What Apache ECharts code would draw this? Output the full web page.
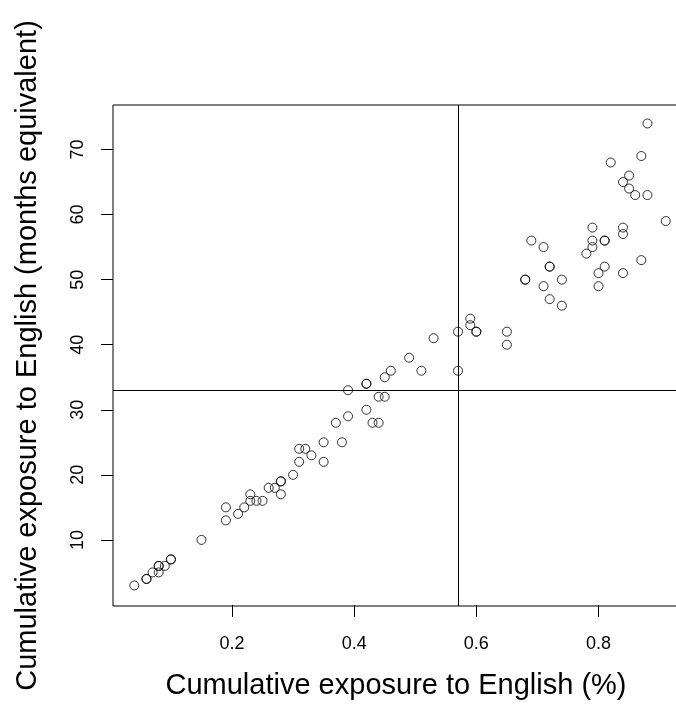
<!DOCTYPE html>
<html>
<head>
<meta charset="utf-8">
<script src="https://cdn.jsdelivr.net/npm/echarts@6/dist/echarts.min.js"></script>
<style>
html,body{margin:0;padding:0;background:#fff;}
#chart{width:676px;height:709px;}
</style>
</head>
<body>
<div id="chart"></div>
<script>
const xValues = [0.04,0.06,0.06,0.07,0.08,0.08,0.08,0.09,0.10,0.10,0.15,0.19,0.19,0.21,0.22,0.23,0.23,0.24,0.25,0.26,0.27,0.28,0.28,0.28,0.30,0.31,0.31,0.32,0.33,0.35,0.35,0.37,0.38,0.39,0.39,0.42,0.42,0.42,0.43,0.44,0.44,0.45,0.45,0.46,0.49,0.51,0.53,0.57,0.57,0.59,0.59,0.60,0.60,0.65,0.65,0.68,0.68,0.69,0.71,0.71,0.72,0.72,0.72,0.74,0.74,0.78,0.79,0.79,0.79,0.80,0.80,0.81,0.81,0.81,0.82,0.84,0.84,0.84,0.84,0.85,0.85,0.86,0.87,0.87,0.88,0.88,0.91];
const yValues = [3,4,4,5,6,6,5,6,7,7,10,15,13,14,15,17,16,16,16,18,18,19,19,17,20,22,24,24,23,25,22,28,25,29,33,30,34,34,28,28,32,32,35,36,38,36,41,42,36,44,43,42,42,42,40,50,50,56,55,49,52,52,47,50,46,54,58,56,55,51,49,56,56,52,68,65,58,57,51,66,64,63,69,53,74,63,59];
const xTicks = [0.2,0.4,0.6,0.8];
const yTicks = [10,20,30,40,50,60,70];
const refX = [0.57];
const refY = [33];
const xTitle = 'Cumulative exposure to English (%)';
const yTitle = 'Cumulative exposure to English (months equivalent)';

const font = 'Liberation Sans';
const chart = echarts.init(document.getElementById('chart'), null, {renderer:'canvas'});
const points = xValues.map((x,i)=>[x,yValues[i]]);
const marks = refX.map(v=>({xAxis:v})).concat(refY.map(v=>({yAxis:v})));

chart.setOption({
  animation:false,
  backgroundColor:'#fff',
  grid:{left:113, top:105, right:-11, bottom:103, show:true, borderColor:'#000', borderWidth:1, backgroundColor:'transparent', outerBoundsMode:'none', containLabel:false},
  xAxis:{
    type:'value', min:0.0052, max:0.9448,
    axisLine:{show:false}, splitLine:{show:false},
    axisTick:{show:true, length:12, customValues:xTicks, lineStyle:{color:'#000', width:1}},
    axisLabel:{customValues:xTicks, formatter:v=>v.toFixed(1), fontSize:18, color:'#000', margin:29, fontFamily:font},
    name:xTitle, nameLocation:'middle', nameGap:65,
    nameTextStyle:{fontSize:29, color:'#000', fontFamily:font, padding:[0,8,0,0]}
  },
  yAxis:{
    type:'value', min:-0.16, max:76.84,
    axisLine:{show:false}, splitLine:{show:false},
    axisTick:{show:true, length:12, customValues:yTicks, lineStyle:{color:'#000', width:1}},
    axisLabel:{customValues:yTicks, rotate:90, fontSize:18, color:'#000', margin:26, fontFamily:font},
    name:yTitle, nameLocation:'middle', nameGap:71, nameRotate:90,
    nameTextStyle:{fontSize:29, color:'#000', fontFamily:font}
  },
  series:[{
    type:'scatter',
    data:points,
    symbol:'circle', symbolSize:9,
    itemStyle:{color:'rgba(0,0,0,0)', borderColor:'#000', borderWidth:1},
    emphasis:{disabled:true},
    markLine:{
      silent:true, symbol:['none','none'], label:{show:false},
      lineStyle:{color:'#000', width:1, type:'solid'},
      emphasis:{disabled:true},
      data:marks
    }
  }]
});
</script>
</body>
</html>
